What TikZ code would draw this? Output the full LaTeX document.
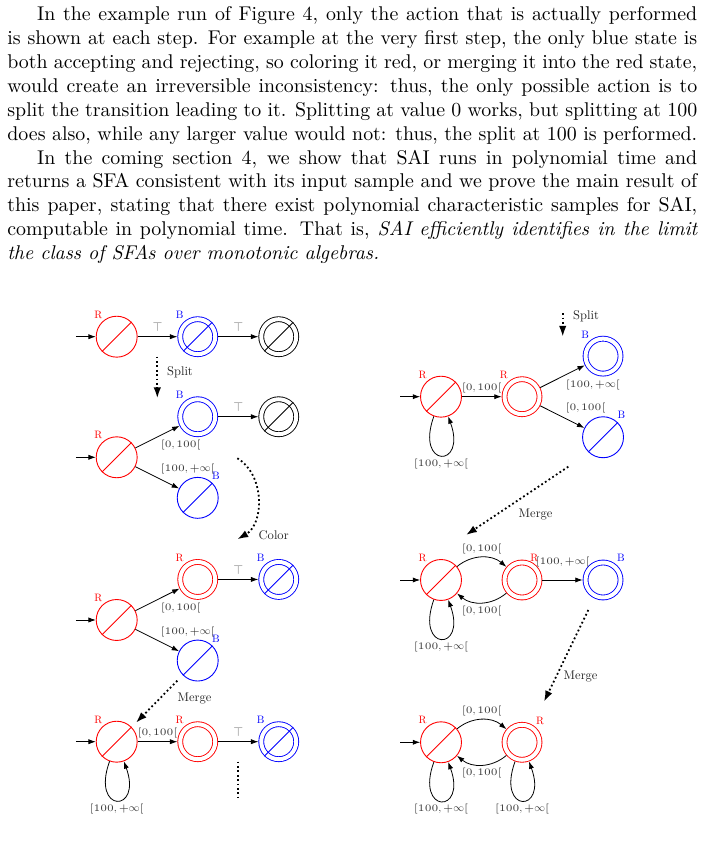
\documentclass[tikz,border=0pt]{standalone}
\usepackage{fontspec}
\setmainfont{lmroman10-regular}[Extension=.otf, ItalicFont=lmroman10-italic, BoldFont=lmroman10-bold]
\usepackage{amsmath, amssymb}
\DeclareFontShape{OMS}{cmsy}{m}{n}{<->cmsy10}{}
\DeclareFontShape{OML}{cmm}{m}{it}{<->cmmi10}{}
\usetikzlibrary{arrows.meta, positioning}
\definecolor{labgray}{gray}{0.2}
\definecolor{topgray}{gray}{0.45}

\begin{document}
\begin{tikzpicture}[x=0.503pt, y=0.503pt, on grid,
    >={Latex[length=3.7pt, width=2.6pt]},
    st/.style={circle, draw=#1, line width=0.45pt, minimum size=20.6pt, inner sep=0pt, outer sep=0.2pt},
    acc/.style={st=#1, double, double distance=2pt, minimum size=17.6pt, outer sep=1.45pt},
    slash/.style={append after command={(\tikzlastnode.225) edge[draw=#1, -, line width=0.45pt] (\tikzlastnode.45)}},
    tag/.style={font=\fontsize{5.4}{6}\selectfont, inner sep=0pt, label distance=1pt},
    tagR/.style={label={[tag, text=red]#1:R}},
    tagB/.style={label={[tag, text=blue]#1:B}},
    lab/.style={font=\fontsize{5.4}{6}\selectfont, text=labgray, inner sep=1.5pt},
    toplab/.style={lab, font=\fontsize{6.4}{7}\selectfont, text=topgray, inner sep=2.2pt},
    act/.style={line width=0.9pt, dash pattern=on 0.9pt off 1.3pt, -{Latex[length=5.5pt, width=3.8pt]}},
    actlab/.style={font=\fontsize{6.3}{7.5}\selectfont, text=black!85, inner sep=0pt, anchor=west},
    loopy/.style={loop, out=-110, in=-70, min distance=28pt}
  ]
  \useasboundingbox (0,0) rectangle (705,846);

  % the text above the figure
  \node[anchor=base west, inner sep=0pt, text width=347pt, align=justify] (para) at (7,825) {%
    \setlength{\parindent}{15pt}\indent In the example run of Figure 4, only the action that is actually performed is shown at each step. For example at the very first step, the only blue state is both accepting and rejecting, so coloring it red, or merging it into the red state, would create an irreversible inconsistency: thus, the only possible action is to split the transition leading to it. Splitting at value 0 works, but splitting at 100 does also, while any larger value would not: thus, the split at 100 is performed.\par
    In the coming section 4, we show that SAI runs in polynomial time and returns a SFA consistent with its input sample and we prove the main result of this paper, stating that there exist polynomial characteristic samples for SAI, computable in polynomial time. That is, \emph{SAI efficiently identifies in the limit the class of SFAs over monotonic algebras.}\par};

  % left column, step 1
  \node[st=red, slash=red, tagR=128] (r1) at (116.7,509.3) {};
  \node[acc=blue, slash=blue, tagB=128, right=40.75pt of r1] (b1) {};
  \node[acc=black, slash=black, right=40.75pt of b1] (k1) {};
  \coordinate[left=20.5pt of r1] (i1);
  \draw[->] (i1) -- (r1);
  \draw[->] (r1) -- node[toplab, above] {$\top$} (b1);
  \draw[->] (b1) -- node[toplab, above] {$\top$} (k1);

  % step 2
  \node[st=red, slash=red, tagR=128] (r2) at (116.7,388.7) {};
  \node[acc=blue, tagB=128, above right=20.4pt and 40.75pt of r2] (b2) {};
  \node[acc=black, slash=black, right=40.75pt of b2] (k2) {};
  \node[st=blue, slash=blue, tagB=52, below right=20.4pt and 40.75pt of r2] (b3) {};
  \coordinate[left=20.5pt of r2] (i2);
  \draw[->] (i2) -- (r2);
  \draw[->] (r2) -- node[lab, below right] {$[0,100[$} (b2);
  \draw[->] (r2) -- node[lab, above right] {$[100,+\infty[$} (b3);
  \draw[->] (b2) -- node[toplab, above] {$\top$} (k2);

  % step 3
  \node[st=red, slash=red, tagR=128] (r3) at (116.7,226) {};
  \node[acc=red, tagR=128, above right=20.4pt and 40.75pt of r3] (r4) {};
  \node[acc=blue, slash=blue, tagB=128, right=40.75pt of r4] (b4) {};
  \node[st=blue, slash=blue, tagB=52, below right=20.4pt and 40.75pt of r3] (b5) {};
  \coordinate[left=20.5pt of r3] (i3);
  \draw[->] (i3) -- (r3);
  \draw[->] (r3) -- node[lab, below right] {$[0,100[$} (r4);
  \draw[->] (r3) -- node[lab, above right] {$[100,+\infty[$} (b5);
  \draw[->] (r4) -- node[toplab, above] {$\top$} (b4);

  % step 4
  \node[st=red, slash=red, tagR=128] (r5) at (116.7,104.3) {};
  \node[acc=red, tagR=128, right=40.75pt of r5] (r6) {};
  \node[acc=blue, slash=blue, tagB=128, right=40.75pt of r6] (b6) {};
  \coordinate[left=20.5pt of r5] (i5);
  \draw[->] (i5) -- (r5);
  \draw[->] (r5) -- node[lab, above] {$[0,100[$} (r6);
  \draw[->] (r6) -- node[toplab, above] {$\top$} (b6);
  \draw[->] (r5) to[loopy] node[lab, below] {$[100,+\infty[$} (r5);

  % right column, step 5
  \node[st=red, slash=red, tagR=128] (r7) at (441,449.3) {};
  \node[acc=red, tagR=128, right=40.75pt of r7] (r8) {};
  \node[acc=blue, tagB=128, above right=20.4pt and 40.75pt of r8] (b7) {};
  \node[st=blue, slash=blue, tagB=52, below right=20.4pt and 40.75pt of r8] (b8) {};
  \coordinate[left=20.5pt of r7] (i7);
  \draw[->] (i7) -- (r7);
  \draw[->] (r7) -- node[lab, above] {$[0,100[$} (r8);
  \draw[->] (r8) -- node[lab, below right] {$[100,+\infty[$} (b7);
  \draw[->] (r8) -- node[lab, above right] {$[0,100[$} (b8);
  \draw[->] (r7) to[loopy] node[lab, below] {$[100,+\infty[$} (r7);

  % step 6
  \node[st=red, slash=red, tagR=128] (r9) at (441,266) {};
  \node[acc=red, label={[tag, text=red, label distance=-0.5pt]66:R}, right=40.75pt of r9] (r10) {};
  \node[acc=blue, tagB=52, right=40.75pt of r10] (b9) {};
  \coordinate[left=20.5pt of r9] (i9);
  \draw[->] (i9) -- (r9);
  \draw[->] (r9) to[bend left=40] node[lab, above] {$[0,100[$} (r10);
  \draw[->] (r10) to[bend left=40] node[lab, below] {$[0,100[$} (r9);
  \draw[->] (r10) -- node[lab, above=4.7pt] {$[100,+\infty[$} (b9);
  \draw[->] (r9) to[loopy] node[lab, below] {$[100,+\infty[$} (r9);

  % step 7
  \node[st=red, slash=red, tagR=128] (r11) at (441,103.7) {};
  \node[acc=red, tagR=52, right=40.75pt of r11] (r12) {};
  \coordinate[left=20.5pt of r11] (i11);
  \draw[->] (i11) -- (r11);
  \draw[->] (r11) to[bend left=40] node[lab, above] {$[0,100[$} (r12);
  \draw[->] (r12) to[bend left=40] node[lab, below] {$[0,100[$} (r11);
  \draw[->] (r11) to[loopy] node[lab, below] {$[100,+\infty[$} (r11);
  \draw[->] (r12) to[loopy] node[lab, below] {$[100,+\infty[$} (r12);

  % actions between the steps
  \coordinate (s1) at (157.3,489.3);
  \coordinate (s2) at (157.3,447.7);
  \draw[act] (s1) -- (s2);
  \node[actlab] (split1) at (166.7,473.3) {Split};

  \coordinate (c1) at (237.3,387.7);
  \coordinate (c2) at (237.3,306.7);
  \draw[act] (c1) to[bend left=60] (c2);
  \node[actlab] (color1) at (258.3,310.3) {Color};

  \coordinate (m1) at (177.3,165.3);
  \coordinate (m2) at (136,123.3);
  \draw[act] (m1) -- (m2);
  \node[actlab] (merge1) at (177.3,147.7) {Merge};

  \coordinate (v1) at (238.3,84.3);
  \coordinate (v2) at (238.3,47.7);
  \draw[act, -] (v1) -- (v2);

  \coordinate (s3) at (562.7,532.7);
  \coordinate (s4) at (562.7,509.3);
  \draw[act] (s3) -- (s4);
  \node[actlab] (split2) at (572.7,529.3) {Split};

  \coordinate (m3) at (568.3,379.3);
  \coordinate (m4) at (466,311);
  \draw[act] (m3) -- (m4);
  \node[actlab] (merge2) at (518.3,331) {Merge};

  \coordinate (m5) at (588.3,236);
  \coordinate (m6) at (544,144.3);
  \draw[act] (m5) -- (m6);
  \node[actlab] (merge3) at (563.3,169.3) {Merge};
\end{tikzpicture}
\end{document}
